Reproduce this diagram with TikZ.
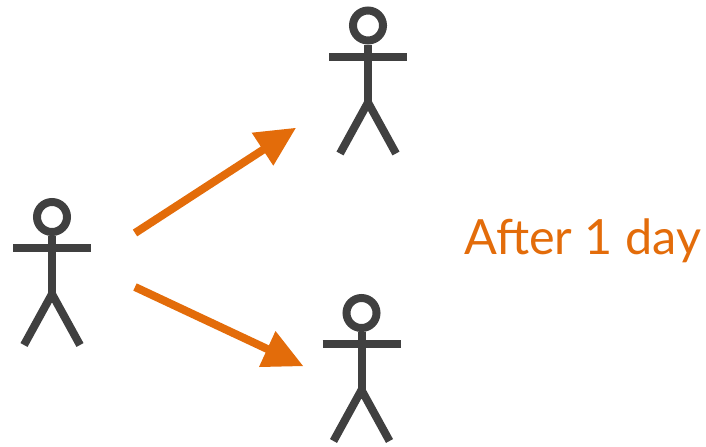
\documentclass[tikz,border=0pt]{standalone}
\usepackage{fontspec}
\setmainfont{Lato}
\definecolor{fig}{HTML}{404040}
\definecolor{arr}{HTML}{E36C0A}
\tikzset{
 px/.style={x=0.75pt,y=-0.75pt},
 limb/.style={draw=fig,line width=6pt},
 headc/.style={circle,draw=fig,line width=6pt,fill=white,minimum size=22.5pt,inner sep=0pt},
 arrowline/.style={draw=arr,line width=6pt},
 arrowtip/.style={fill=arr,draw=none},
 lab/.style={text=arr,font=\fontsize{36.4pt}{40pt}\selectfont,inner sep=0pt}
}
\newcommand{\stick}[3]{% name, x, y of head centre
 \node[headc] (#1h) at (#2,#3) {};
 \coordinate (#1a) at (#2-39,#3+31);
 \coordinate (#1b) at (#2+39,#3+31);
 \coordinate (#1c) at (#2,#3+77);
 \coordinate (#1l) at (#2-28,#3+128);
 \coordinate (#1r) at (#2+28,#3+128);
 \draw[limb] (#1h.south) -- (#1c);
 \draw[limb] (#1a) -- (#1b);
 \draw[limb] (#1l) -- (#1c) -- (#1r);
}
\begin{document}
\begin{tikzpicture}[px]
\useasboundingbox (0,0) rectangle (706,446);
\stick{A}{52}{217}
\stick{B}{368}{25.5}
\stick{C}{361.5}{313}
\coordinate (s1) at (135,233);
\coordinate (e1) at (272,144);
\coordinate (s2) at (135,287);
\coordinate (e2) at (278,354);
\draw[arrowline] (s1) -- (e1);
\fill[arrowtip] (295.7,128) -- (251.7,132.7) -- (273.3,165.7) -- cycle;
\draw[arrowline] (s2) -- (e2);
\fill[arrowtip] (303,366) -- (259,367) -- (275.5,331) -- cycle;
\node[lab,anchor=west] (t) at (464,241) {After 1 day};
\end{tikzpicture}
\end{document}
